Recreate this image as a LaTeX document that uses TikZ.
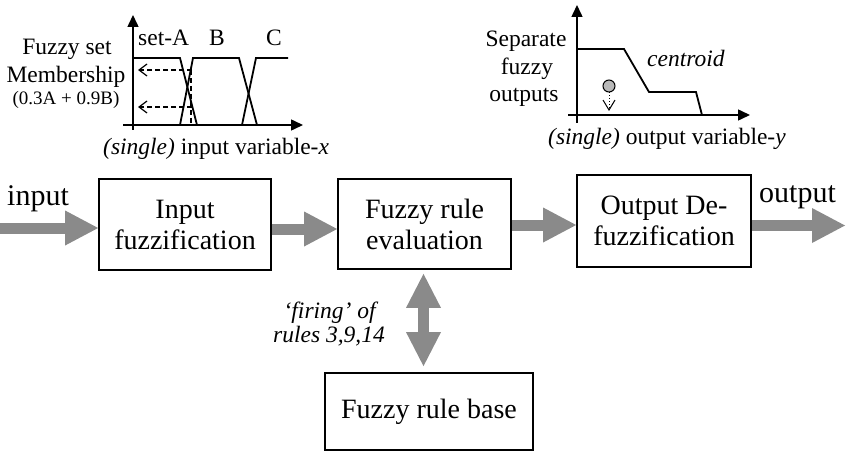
\documentclass[tikz,border=0pt]{standalone}
\usepackage{fontspec}
\setmainfont{Liberation Serif}
\usetikzlibrary{arrows.meta,calc}
\definecolor{arrgray}{RGB}{138,138,138}
\definecolor{ballgray}{RGB}{185,185,185}
\begin{document}
\begin{tikzpicture}[x=1pt,y=-1pt,
  box/.style={draw,line width=1.8pt,inner sep=0pt,align=center,font=\fontsize{28}{31}\selectfont},
  fat/.style={draw=arrgray,line width=11pt,-{Triangle[length=33pt,width=35pt,line width=0pt]}},
  fatboth/.style={draw=arrgray,line width=11pt,{Triangle[length=34pt,width=35pt,line width=0pt]}-{Triangle[length=34pt,width=35pt,line width=0pt]}},
  axis/.style={line width=1.5pt,-{Triangle[length=12pt,width=11pt]}},
  mf/.style={line width=1.8pt},
  dasharr/.style={line width=1.2pt,dash pattern=on 5pt off 3pt,-{Straight Barb[length=8pt,width=12pt]}},
  lbl/.style={font=\fontsize{23.5}{25}\selectfont,inner sep=0pt},
  small/.style={font=\fontsize{19}{20}\selectfont,inner sep=0pt},
  big/.style={font=\fontsize{30}{32}\selectfont,inner sep=0pt}
]
\useasboundingbox (0,0) rectangle (847,452);

% ---------- top-left chart ----------
\draw[axis] (133,130) -- (133,15);
\draw[axis] (123,125) -- (303,125);
\draw[mf] (133,58) -- (180,58) -- (197,125);
\draw[mf] (180,125) -- (193,58) -- (239,58) -- (257,125);
\draw[mf] (242,125) -- (256,58) -- (288,58);
\coordinate (m1) at (192,70);
\coordinate (m1e) at (138,70);
\coordinate (m2) at (192,107);
\coordinate (m2e) at (138,107);
\coordinate (v1) at (191,70);
\coordinate (v2) at (191,124);
\draw[dasharr] (m1) -- (m1e);
\draw[dasharr] (m2) -- (m2e);
\draw[line width=1.2pt,dash pattern=on 5pt off 3pt] (v1) -- (v2);

\node[lbl,anchor=base] (fs1) at (67,55) {Fuzzy set};
\node[lbl,anchor=base] (fs2) at (66,83) {Membership};
\node[small,anchor=base] (fs3) at (66,105) {(0.3A + 0.9B)};
\node[lbl,anchor=base west] (sA) at (138,46) {set-A};
\node[lbl,anchor=base] (sB) at (217,46) {B};
\node[lbl,anchor=base] (sC) at (274,46) {C};
\node[lbl,anchor=base west] (xl) at (103,154) {\textit{(single)} input variable-\textit{x}};

% ---------- top-right chart ----------
\draw[axis] (577,123) -- (577,5);
\draw[axis] (568,115) -- (750,115);
\draw[mf] (577,49) -- (624,49) -- (649,92) -- (696,92) -- (702,115);
\node[circle,draw,fill=ballgray,minimum size=12pt,inner sep=0pt,line width=1pt] (ball) at (609,86) {};
\coordinate (balltip) at (609,111);
\draw[dotted,line width=1pt,-{Straight Barb[length=10pt,width=12pt]}] (ball.south) -- (balltip);

\node[lbl,anchor=base] (so1) at (526,47) {Separate};
\node[lbl,anchor=base] (so2) at (527,75) {fuzzy};
\node[lbl,anchor=base] (so3) at (524,102) {outputs};
\node[lbl,anchor=base west] (cen) at (647,67) {\textit{centroid}};
\node[lbl,anchor=base west] (yl) at (548,145) {\textit{(single)} output variable-\textit{y}};

% ---------- main row ----------
\node[box,minimum width=172pt,minimum height=91pt] (b1) at (185,224.5) {Input\\fuzzification};
\node[box,minimum width=173pt,minimum height=90pt] (b2) at (424.5,224) {Fuzzy rule\\evaluation};
\node[box,minimum width=174pt,minimum height=92pt] (b3) at (664,221) {Output De-\\fuzzification};
\node[box,minimum width=208pt,minimum height=77pt] (b4) at (429,411.5) {Fuzzy rule base};

\node[big,anchor=base west] (inl) at (7,205) {input};
\node[big,anchor=base west] (outl) at (759,202) {output};

\coordinate (a1) at (0,228);
\draw[fat] (a1) -- (a1 -| b1.west);
\coordinate (a2) at ([yshift=-4.5pt]b1.east);
\draw[fat] (a2) -- (a2 -| b2.west);
\coordinate (a3) at ([yshift=-1pt]b2.east);
\draw[fat] (a3) -- (a3 -| b3.west);
\coordinate (a4) at ([yshift=-4.5pt]b3.east);
\coordinate (a4e) at (845,225.5);
\draw[fat] (a4) -- (a4e);

\coordinate (d1) at ([xshift=-1pt,yshift=-4pt]b2.south);
\coordinate (d2) at (d1 |- b4.north);
\draw[fatboth] (d1) -- ([yshift=6pt]d2);

\node[lbl,anchor=base] (fire1) at (331,318) {\textit{‘firing’ of}};
\node[lbl,anchor=base] (fire2) at (329,342) {\textit{rules 3,9,14}};
\end{tikzpicture}
\end{document}
